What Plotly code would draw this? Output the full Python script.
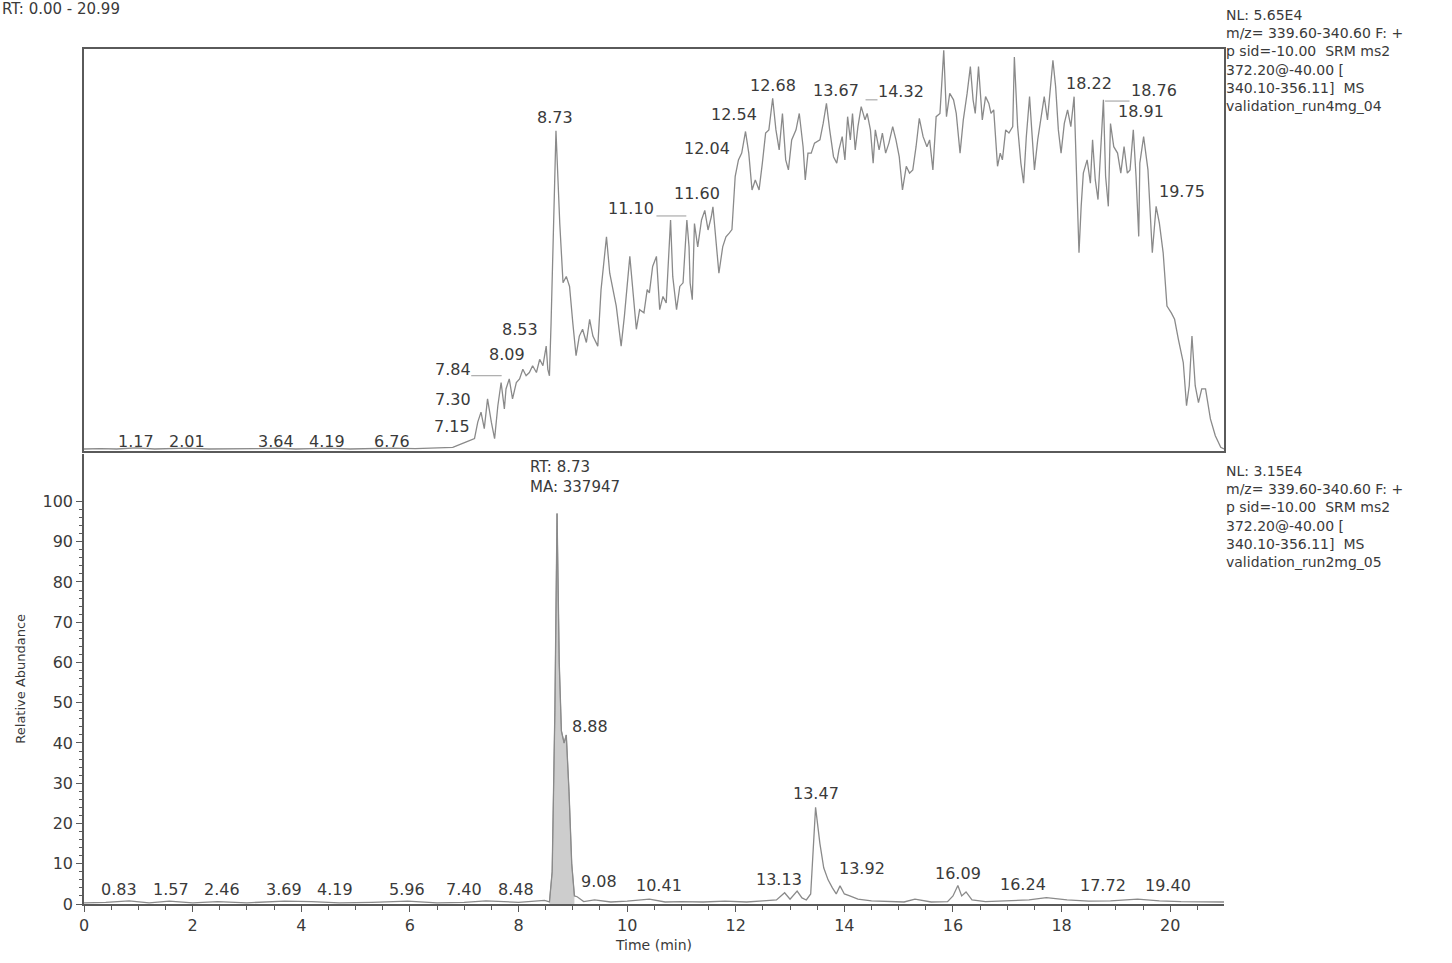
import plotly.graph_objects as go

# ---------------- data ----------------
# upper chromatogram (validation_run4mg_04), relative intensity (%)
top_time = [0.00, 0.30, 0.60, 0.96, 1.30, 1.60, 1.90, 2.30, 2.80, 3.20, 3.53, 3.90, 4.20, 4.48,
            4.90, 5.30, 5.68, 6.10, 6.50, 6.79,
            7.04, 7.19, 7.25, 7.31, 7.37, 7.43, 7.50, 7.56, 7.62, 7.68, 7.74, 7.77, 7.83, 7.89,
            7.96, 8.02, 8.08, 8.14, 8.20, 8.26, 8.33, 8.39, 8.45, 8.51, 8.54, 8.57, 8.60, 8.65,
            8.69, 8.76, 8.82, 8.88, 8.94, 9.00, 9.06, 9.12, 9.18, 9.25, 9.31, 9.37, 9.46, 9.52,
            9.62, 9.68, 9.74, 9.80, 9.89, 9.95, 10.05, 10.11, 10.17, 10.23, 10.31, 10.37, 10.41,
            10.47, 10.54, 10.60, 10.66, 10.72, 10.80, 10.84, 10.91, 10.97, 11.03, 11.10, 11.14,
            11.16, 11.20, 11.24, 11.30, 11.37, 11.43, 11.49, 11.55, 11.58, 11.63, 11.69, 11.76,
            11.82, 11.88, 11.93, 11.99, 12.05, 12.11, 12.18, 12.24, 12.30, 12.36, 12.43, 12.49,
            12.55, 12.61, 12.68, 12.74, 12.80, 12.86, 12.92, 12.97, 13.03, 13.11, 13.17, 13.24,
            13.28, 13.33, 13.39, 13.45, 13.55, 13.61, 13.67, 13.73, 13.80, 13.86, 13.90, 13.96,
            14.01, 14.06, 14.11, 14.15, 14.20, 14.25, 14.31, 14.38, 14.42, 14.48, 14.53, 14.57,
            14.64, 14.70, 14.76, 14.82, 14.89, 14.95, 15.01, 15.07, 15.14, 15.20, 15.26, 15.32,
            15.38, 15.45, 15.52, 15.57, 15.63, 15.69, 15.76, 15.79, 15.83, 15.88, 15.94, 16.01,
            16.06, 16.13, 16.19, 16.26, 16.32, 16.37, 16.41, 16.47, 16.54, 16.60, 16.66, 16.70,
            16.75, 16.82, 16.87, 16.91, 16.97, 17.03, 17.10, 17.13, 17.19, 17.25, 17.30, 17.35,
            17.41, 17.45, 17.50, 17.56, 17.63, 17.68, 17.74, 17.80, 17.84, 17.89, 17.94, 17.99,
            18.05, 18.11, 18.17, 18.23, 18.26, 18.30, 18.32, 18.36, 18.40, 18.47, 18.53, 18.57,
            18.62, 18.67, 18.72, 18.77, 18.81, 18.86, 18.90, 18.96, 19.03, 19.09, 19.15, 19.21,
            19.26, 19.32, 19.37, 19.42, 19.44, 19.51, 19.59, 19.67, 19.74, 19.80, 19.87, 19.94,
            20.02, 20.08, 20.15, 20.24, 20.30, 20.35, 20.40, 20.46, 20.52, 20.58, 20.65, 20.74,
            20.83, 20.93, 20.99]
top_rel = [0.4, 0.5, 0.4, 0.7, 0.4, 0.5, 0.6, 0.4, 0.4, 0.5, 0.6, 0.4, 0.5, 0.6,
           0.4, 0.5, 0.6, 0.5, 0.6, 0.8,
           2.2, 3.0, 7.1, 9.6, 5.5, 12.9, 7.1, 3.0, 11.2, 17.0, 10.4, 15.4, 17.9, 12.9,
           17.0, 17.9, 20.3, 18.7, 19.5, 21.2, 19.5, 22.8, 21.2, 26.1, 20.3, 18.7, 31.9, 56.7,
           79.9, 56.7, 41.9, 43.5, 41.0, 31.9, 23.7, 28.6, 30.3, 27.0, 32.8, 28.6, 26.1, 40.2,
           53.4, 44.3, 40.2, 36.1, 26.1, 33.6, 48.5, 40.2, 30.3, 35.2, 34.4, 40.2, 39.4,
           46.0, 48.5, 35.2, 38.5, 36.9, 57.6, 43.5, 35.2, 41.0, 41.9, 57.6, 50.9,
           41.9, 37.7, 56.7, 50.9, 57.6, 60.0, 55.1, 58.4, 60.9, 53.4, 44.3, 50.9,
           53.4, 54.3, 55.2, 68.5, 72.6, 74.3, 79.7, 74.3, 65.1, 67.6, 65.1, 71.8,
           79.3, 80.1, 88.0, 80.1, 75.1, 84.2, 72.6, 70.1, 77.6, 80.1, 84.2, 75.9,
           67.6, 74.3, 74.3, 76.8, 77.6, 81.7, 86.7, 80.1, 73.4, 71.8, 75.1, 78.4,
           72.6, 83.4, 77.6, 84.2, 75.1, 80.9, 85.9, 82.6, 84.2, 80.1, 71.8, 80.1,
           75.1, 79.3, 74.3, 76.8, 80.9, 77.6, 73.4, 65.1, 71.0, 69.3, 70.1, 75.9,
           83.0, 78.4, 75.9, 77.6, 70.1, 83.4, 84.2, 90.9, 100.0, 83.4, 89.2, 87.6,
           84.2, 74.3, 82.6, 89.2, 95.9, 87.6, 84.2, 95.9, 82.6, 88.4, 86.7, 84.2,
           85.1, 71.0, 74.3, 72.6, 80.1, 79.3, 80.9, 98.3, 80.9, 71.8, 66.8, 78.4,
           88.4, 80.1, 70.1, 77.6, 84.2, 88.4, 82.6, 90.9, 97.5, 90.9, 80.1, 74.3,
           81.7, 85.1, 80.9, 88.4, 74.3, 57.7, 49.4, 61.0, 69.3, 72.6, 66.8, 77.6,
           67.6, 62.7, 75.9, 87.6, 68.5, 61.0, 81.7, 75.9, 74.3, 69.3, 75.9, 69.3,
           70.1, 80.1, 68.5, 53.5, 71.8, 78.4, 70.1, 49.4, 61.0, 56.8, 49.4, 36.1,
           34.4, 32.8, 27.8, 22.0, 11.2, 16.2, 28.6, 16.2, 12.0, 15.4, 15.4, 7.9,
           3.7, 0.8, 0.4]

# lower chromatogram (validation_run2mg_05), relative abundance (%)
bot_time = [0.00, 0.40, 0.83, 1.20, 1.57, 2.00, 2.46, 3.00, 3.69, 4.19, 4.70, 5.30, 5.96, 6.50,
            7.00, 7.40, 8.00, 8.48, 8.57, 8.62, 8.67, 8.71, 8.75, 8.79, 8.84, 8.88, 8.93, 8.98,
            9.03, 9.08, 9.20, 9.40, 9.70, 10.00, 10.41, 10.70, 11.00, 11.40, 11.80, 12.20, 12.50,
            12.75, 12.90, 13.00, 13.13, 13.22, 13.30, 13.38, 13.47, 13.55, 13.62, 13.70, 13.78,
            13.85, 13.92, 14.00, 14.10, 14.25, 14.50, 14.80, 15.10, 15.30, 15.60, 15.90, 16.00,
            16.09, 16.16, 16.24, 16.35, 16.60, 17.00, 17.40, 17.72, 18.10, 18.50, 18.90, 19.40,
            19.80, 20.20, 20.60, 20.99]
bot_rel = [0.3, 0.4, 0.8, 0.3, 0.7, 0.3, 0.6, 0.3, 0.7, 0.6, 0.3, 0.4, 0.7, 0.3,
           0.4, 0.8, 0.4, 0.9, 0.5, 8.0, 48.0, 97.0, 60.0, 43.0, 40.0, 42.0, 28.0, 10.0,
           2.0, 1.8, 0.6, 1.0, 0.5, 0.7, 1.2, 0.5, 0.6, 0.5, 0.7, 0.5, 0.8,
           1.0, 2.8, 1.2, 3.2, 1.5, 1.0, 2.5, 24.0, 15.0, 9.0, 6.0, 4.0,
           2.5, 4.5, 2.5, 2.0, 1.2, 0.8, 0.6, 0.5, 1.2, 0.5, 0.6, 2.0,
           4.6, 2.0, 3.0, 1.0, 0.6, 0.8, 1.0, 1.6, 1.0, 0.7, 0.8, 1.2,
           0.8, 0.6, 0.5, 0.5]

# integrated peak window (min)
peak_window = [8.57, 9.03]

# tick values
x_ticks = [0, 2, 4, 6, 8, 10, 12, 14, 16, 18, 20]
y_ticks = [0, 10, 20, 30, 40, 50, 60, 70, 80, 90, 100]

# peak labels: (text, time, level) for upper and lower traces
top_labels = [("1.17", 0.96, 2.2), ("2.01", 1.90, 2.2), ("3.64", 3.53, 2.2), ("4.19", 4.48, 2.2),
              ("6.76", 5.68, 2.2), ("7.15", 6.77, 6.0), ("7.30", 6.80, 12.8), ("7.84", 6.79, 20.3),
              ("8.09", 7.78, 24.1), ("8.53", 8.03, 30.3), ("8.73", 8.68, 83.2),
              ("11.10", 10.08, 60.5), ("11.60", 11.29, 64.2), ("12.04", 11.47, 75.4),
              ("12.54", 11.96, 84.0), ("12.68", 12.68, 91.3), ("13.67", 13.84, 90.0),
              ("14.32", 15.05, 89.6), ("15.85", 15.85, 103.3), ("17.13", 17.13, 101.2),
              ("17.82", 18.31, 101.2), ("18.22", 18.51, 91.7), ("18.76", 19.71, 90.0),
              ("18.91", 19.46, 84.6), ("19.75", 20.22, 64.7)]
top_leaders = [(7.13, 7.69, 18.7), (10.54, 11.09, 58.6), (14.39, 14.61, 87.6), (18.80, 19.25, 87.3)]

bot_labels = [("0.83", 0.64, 3.7), ("1.57", 1.61, 3.7), ("2.46", 2.54, 3.7), ("3.69", 3.68, 3.7),
              ("4.19", 4.62, 3.7), ("5.96", 5.94, 3.7), ("7.40", 6.99, 3.7), ("8.48", 7.96, 3.7),
              ("9.08", 9.48, 5.5), ("10.41", 10.59, 4.6), ("13.13", 12.80, 6.2),
              ("13.47", 13.48, 27.5), ("13.92", 14.32, 8.7), ("16.09", 16.09, 7.5),
              ("16.24", 17.29, 4.9), ("17.72", 18.77, 4.7), ("19.40", 19.96, 4.7),
              ("8.88", 9.31, 44.0)]

top_info = ["NL: 5.65E4", "m/z= 339.60-340.60 F: +", "p sid=-10.00  SRM ms2",
            "372.20@-40.00 [", "340.10-356.11]  MS", "validation_run4mg_04"]
bot_info = ["NL: 3.15E4", "m/z= 339.60-340.60 F: +", "p sid=-10.00  SRM ms2",
            "372.20@-40.00 [", "340.10-356.11]  MS", "validation_run2mg_05"]

# ---------------- styling ----------------
FONT = "DejaVu Sans"
TXT = "#3a3a3a"
AX = "#5a5a5a"
LINE = "#8a8a8a"

W, H = 1452, 963
ML, MR, MT, MB = 84, 228, 49, 56
PH = H - MT - MB
PW = W - ML - MR
top_dom = [(907 - 452) / PH, 1.0]
bot_dom = [0.0, (907 - 455) / PH]


def py(px):
    """paper y from pixel row"""
    return (H - MB - px) / PH


def pxx(px):
    return (px - ML) / PW


fig = go.Figure()

# lower trace + integrated area
pk_t = [t for t in bot_time if peak_window[0] <= t <= peak_window[1]]
pk_v = [v for t, v in zip(bot_time, bot_rel) if peak_window[0] <= t <= peak_window[1]]
fig.add_trace(go.Scatter(x=pk_t, y=pk_v, mode="lines", fill="tozeroy",
                         fillcolor="rgba(200,200,200,0.9)", line=dict(color="#9a9a9a", width=1),
                         xaxis="x", yaxis="y", hoverinfo="skip", showlegend=False))
fig.add_trace(go.Scatter(x=bot_time, y=bot_rel, mode="lines",
                         line=dict(color=LINE, width=1.3), xaxis="x", yaxis="y",
                         showlegend=False))
# upper trace
fig.add_trace(go.Scatter(x=top_time, y=top_rel, mode="lines",
                         line=dict(color=LINE, width=1.3), xaxis="x2", yaxis="y2",
                         showlegend=False))

LBL = dict(family=FONT, size=16, color=TXT)
annotations = []
for txt, t, v in top_labels:
    annotations.append(dict(text=txt, x=t, y=v, xref="x2", yref="y2", showarrow=False,
                            xanchor="center", yanchor="middle", font=LBL))
for txt, t, v in bot_labels:
    annotations.append(dict(text=txt, x=t, y=v, xref="x", yref="y", showarrow=False,
                            xanchor="center", yanchor="middle", font=LBL))
annotations.append(dict(text="RT: 8.73<br>MA: 337947", x=8.18, y=106.0, xref="x", yref="y",
                        showarrow=False, xanchor="left", yanchor="middle", align="left",
                        font=dict(family=FONT, size=15, color=TXT)))

INFO = dict(family=FONT, size=14, color=TXT)
annotations.append(dict(text="<br>".join(top_info), x=pxx(1224), y=py(5),
                        xref="paper", yref="paper", showarrow=False, xanchor="left",
                        yanchor="top", align="left", font=INFO))
annotations.append(dict(text="<br>".join(bot_info), x=pxx(1224), y=py(462),
                        xref="paper", yref="paper", showarrow=False, xanchor="left",
                        yanchor="top", align="left", font=INFO))

annotations.append(dict(text="RT: 0.00 - 20.99", x=pxx(0), y=py(9), xref="paper", yref="paper",
                        showarrow=False, xanchor="left", yanchor="middle",
                        font=dict(family=FONT, size=15, color=TXT)))

shapes = []
for a, b, v in top_leaders:
    shapes.append(dict(type="line", x0=a, x1=b, y0=v, y1=v, xref="x2", yref="y2",
                       line=dict(color="#9a9a9a", width=1)))

fig.update_layout(
    width=W, height=H,
    margin=dict(l=ML, r=MR, t=MT, b=MB),
    paper_bgcolor="white", plot_bgcolor="white",
    font=dict(family=FONT, size=16, color=TXT),
    showlegend=False,
    annotations=annotations,
    shapes=shapes,
    xaxis=dict(domain=[0, 1], range=[0, 20.99], anchor="y", tickvals=x_ticks,
               ticks="outside", ticklen=6, tickwidth=1, tickcolor=AX,
               minor=dict(dtick=0.5, tick0=0, ticks="outside", ticklen=4, tickcolor=AX),
               showline=True, linecolor=AX, linewidth=1.5, showgrid=False, zeroline=False,
               tickfont=dict(family=FONT, size=16, color=TXT),
               title=dict(text="Time (min)", standoff=6,
                          font=dict(family=FONT, size=14, color=TXT))),
    yaxis=dict(domain=bot_dom, range=[0, 111.9], anchor="x", tickvals=y_ticks,
               ticks="outside", ticklen=6, tickwidth=1, tickcolor=AX,
               minor=dict(tickvals=list(range(0, 102, 2)), ticks="outside", ticklen=3,
                          tickcolor=AX),
               showline=True, linecolor=AX, linewidth=1.5, showgrid=False, zeroline=False,
               tickfont=dict(family=FONT, size=16, color=TXT),
               title=dict(text="Relative Abundance", standoff=14,
                          font=dict(family=FONT, size=13, color=TXT))),
    xaxis2=dict(domain=[0, 1], range=[0, 20.99], anchor="y2", matches="x",
                showticklabels=False, ticks="", showline=True, mirror=True,
                linecolor=AX, linewidth=1.5, showgrid=False, zeroline=False),
    yaxis2=dict(domain=top_dom, range=[0, 100.3], anchor="x2", showticklabels=False,
                ticks="", showline=True, mirror=True, linecolor=AX, linewidth=1.5,
                showgrid=False, zeroline=False),
)

fig.write_html("out.html", config={"displayModeBar": False},
               post_script="document.body.style.margin='0';document.body.style.overflow='hidden';")
